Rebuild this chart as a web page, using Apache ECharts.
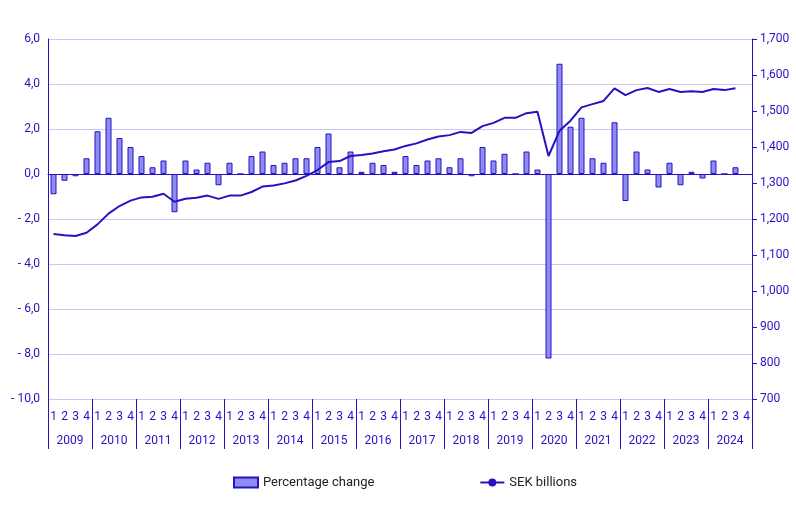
<!DOCTYPE html>
<html><head><meta charset="utf-8">
<script src="https://cdn.jsdelivr.net/npm/echarts@6/dist/echarts.min.js"></script>
<style>html,body{margin:0;padding:0;background:#fff}#c{width:796px;height:512px}</style>
</head><body><div id="c"></div>
<script>
const years = ['2009','2010','2011','2012','2013','2014','2015','2016','2017','2018','2019','2020','2021','2022','2023','2024'];
const quarterLabels = ['1','2','3','4'];
const pctChange = [
 -0.9,-0.3,-0.1,0.7, 1.9,2.5,1.6,1.2, 0.8,0.3,0.6,-1.7, 0.6,0.2,0.5,-0.5,
 0.5,0.0,0.8,1.0, 0.4,0.5,0.7,0.7, 1.2,1.8,0.3,1.0, 0.1,0.5,0.4,0.1,
 0.8,0.4,0.6,0.7, 0.3,0.7,-0.1,1.2, 0.6,0.9,0.0,1.0, 0.2,-8.2,4.9,2.1,
 2.5,0.7,0.5,2.3, -1.2,1.0,0.2,-0.6, 0.5,-0.5,0.1,-0.2, 0.6,0.0,0.3,null];
const sekBillions = [
 1158,1155,1153,1162, 1185,1215,1236,1251, 1260,1262,1270,1248, 1256,1259,1265,1256,
 1265,1265,1275,1290, 1293,1299,1307,1320, 1336,1358,1361,1375, 1378,1382,1388,1393,
 1403,1410,1421,1429, 1433,1442,1439,1458, 1467,1481,1481,1494, 1498,1375,1445,1473,
 1510,1519,1528,1563, 1544,1558,1564,1553, 1561,1553,1555,1553, 1561,1558,1563,null];
const quarters = [];
years.forEach(y => quarterLabels.forEach(q => quarters.push(y + ' Q' + q)));
const blue = '#2a10c0';
const font = 'Roboto';
const chart = echarts.init(document.getElementById('c'));
chart.setOption({
  animation:false,
  textStyle:{fontFamily:font},
  grid:{left:48,right:44,top:39,bottom:113},
  legend:{bottom:18,left:228,itemGap:105,itemWidth:24,itemHeight:10,
    textStyle:{color:'#222',fontSize:13,fontFamily:font},
    data:[{name:'Percentage change',icon:'rect'},{name:'SEK billions'}]},
  xAxis:[
    {type:'category',data:quarters,position:'bottom',
     axisLine:{lineStyle:{color:blue}},axisTick:{show:false},
     axisLabel:{formatter:v=>v.slice(-1),color:blue,fontSize:12,margin:12,interval:0}},
    {type:'category',data:years,position:'bottom',
     axisLine:{show:false},
     axisTick:{show:true,length:50,lineStyle:{color:blue},interval:0},
     axisLabel:{color:blue,fontSize:12,margin:36,interval:0}}
  ],
  yAxis:[
    {type:'value',min:-10,max:6,interval:2,
     axisLine:{show:true,lineStyle:{color:blue}},axisTick:{show:false},
     splitLine:{lineStyle:{color:'#c8c8f0'}},
     axisLabel:{color:blue,fontSize:12,formatter:v=>(v<0?'- ':'')+Math.abs(v).toFixed(1).replace('.',',')}},
    {type:'value',min:700,max:1700,interval:100,position:'right',
     axisLine:{show:true,lineStyle:{color:blue}},axisTick:{show:true,lineStyle:{color:blue}},
     splitLine:{show:false},axisLabel:{color:blue,fontSize:12}}
  ],
  series:[
    {name:'Percentage change',type:'bar',data:pctChange,barWidth:6,
     itemStyle:{color:'#8c8cf2',borderColor:blue,borderWidth:1},
     markLine:{silent:true,symbol:'none',label:{show:false},
       lineStyle:{color:blue,type:'solid',width:1.2},data:[{yAxis:0}]}},
    {name:'SEK billions',type:'line',yAxisIndex:1,data:sekBillions,
     symbol:'none',lineStyle:{color:blue,width:2},itemStyle:{color:blue}}
  ]
});
</script></body></html>
